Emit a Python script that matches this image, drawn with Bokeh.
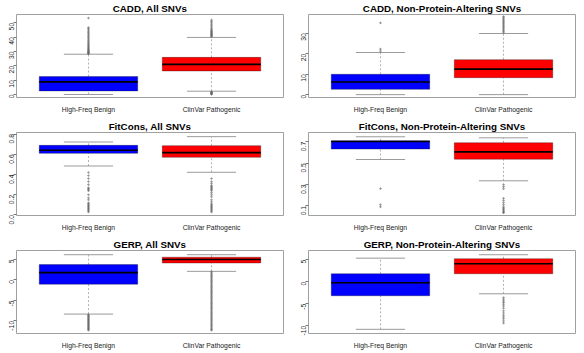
from bokeh.plotting import figure
from bokeh.layouts import gridplot
from bokeh.models import Range1d, FixedTicker
from bokeh.embed import file_html
from bokeh.resources import INLINE

GROUPS = ["High-Freq Benign", "ClinVar Pathogenic"]
COLORS = ["#0000FF", "#FF0000"]
TITLES = ["CADD, All SNVs", "CADD, Non-Protein-Altering SNVs",
          "FitCons, All SNVs", "FitCons, Non-Protein-Altering SNVs",
          "GERP, All SNVs", "GERP, Non-Protein-Altering SNVs"]

# ---- CADD, All SNVs ----
CADD_ALL_WLO = [0.0, 2.3]
CADD_ALL_Q1 = [2.5, 16.4]
CADD_ALL_MED = [8.8, 21.0]
CADD_ALL_Q3 = [12.5, 25.9]
CADD_ALL_WHI = [28.1, 39.8]
CADD_ALL_OUT_B = [28.4, 28.7, 29.0, 29.3, 29.7, 30.1, 30.5, 31.0, 31.5, 32.1, 32.7, 33.3,
                  34.0, 34.7, 35.4, 36.2, 37.0, 37.8, 38.7, 39.6, 40.5, 41.4, 42.3, 43.2,
                  44.1, 45.0, 45.9, 46.7, 53.3]
CADD_ALL_OUT_P = [0.1, 0.4, 0.7, 1.0, 1.3, 1.6, 1.9, 40.4, 40.8, 41.2, 41.7, 42.1, 42.6,
                  43.0, 43.5, 44.0, 44.6, 45.2, 46.0, 47.0, 48.0, 49.0, 50.0, 51.0, 52.0]

# ---- CADD, Non-Protein-Altering SNVs ----
CADD_NPA_WLO = [0.0, 0.0]
CADD_NPA_Q1 = [2.6, 8.3]
CADD_NPA_MED = [6.2, 12.5]
CADD_NPA_Q3 = [9.95, 17.1]
CADD_NPA_WHI = [20.6, 29.9]
CADD_NPA_OUT_B = [21.3, 22.3, 35.1]
CADD_NPA_OUT_P = [30.4, 31.0, 31.6, 32.2, 32.8, 33.4, 34.0, 34.6, 35.2, 35.8, 36.4,
                  37.0, 37.6, 38.2]

# ---- FitCons, All SNVs ----
FIT_ALL_WLO = [0.484, 0.422]
FIT_ALL_Q1 = [0.609, 0.570]
FIT_ALL_MED = [0.639, 0.616]
FIT_ALL_Q3 = [0.688, 0.685]
FIT_ALL_WHI = [0.721, 0.774]
FIT_ALL_OUT_B = [0.42, 0.39, 0.36, 0.33, 0.30, 0.27, 0.26, 0.25, 0.24, 0.20, 0.17,
                 0.15, 0.12, 0.11, 0.10, 0.09, 0.08, 0.07, 0.06, 0.05, 0.04, 0.03]
FIT_ALL_OUT_P = [0.36, 0.33, 0.31, 0.29, 0.28, 0.27, 0.26, 0.25, 0.24, 0.22, 0.20,
                 0.18, 0.15, 0.13, 0.11, 0.10, 0.09, 0.08, 0.07, 0.06, 0.05, 0.04, 0.03]

# ---- FitCons, Non-Protein-Altering SNVs ----
FIT_NPA_WLO = [0.534, 0.335]
FIT_NPA_Q1 = [0.632, 0.537]
FIT_NPA_MED = [0.703, 0.606]
FIT_NPA_Q3 = [0.709, 0.691]
FIT_NPA_WHI = [0.747, 0.737]
FIT_NPA_OUT_B = [0.262, 0.112, 0.091]
FIT_NPA_OUT_P = [0.30, 0.28, 0.26, 0.17, 0.15, 0.13, 0.11, 0.09, 0.08, 0.07, 0.06,
                 0.05, 0.04, 0.035]

# ---- GERP, All SNVs ----
GERP_ALL_WLO = [-8.35, 2.1]
GERP_ALL_Q1 = [-1.04, 4.15]
GERP_ALL_MED = [1.78, 4.99]
GERP_ALL_Q3 = [3.75, 5.56]
GERP_ALL_WHI = [6.17, 6.17]
GERP_ALL_OUT_B = [-8.5, -8.7, -8.9, -9.1, -9.3, -9.5, -9.7, -9.9, -10.1, -10.3, -10.5,
                  -10.7, -10.9, -11.1, -11.3, -11.5, -11.7, -11.9, -12.1, -12.3]
GERP_ALL_OUT_P = [2.0, 1.7, 1.4, 1.1, 0.8, 0.5, 0.2, -0.1, -0.4, -0.7, -1.0, -1.3, -1.6,
                  -1.9, -2.2, -2.5, -2.8, -3.1, -3.4, -3.7, -4.0, -4.3, -4.6, -4.9, -5.2,
                  -5.5, -5.8, -6.1, -6.4, -6.7, -7.0, -7.3, -7.6, -7.9, -8.2, -8.5, -8.8,
                  -9.1, -9.4, -9.7, -10.0, -10.3, -10.6, -10.9, -11.2, -11.5, -11.8, -12.1, -12.3]

# ---- GERP, Non-Protein-Altering SNVs ----
GERP_NPA_WLO = [-10.8, -2.73]
GERP_NPA_Q1 = [-3.18, 1.82]
GERP_NPA_MED = [-0.23, 4.09]
GERP_NPA_Q3 = [1.82, 5.23]
GERP_NPA_WHI = [5.36, 6.14]
GERP_NPA_OUT_B = []
GERP_NPA_OUT_P = [-3.6, -4.0, -4.4, -4.7, -5.1, -5.5, -6.0, -6.6, -7.1, -7.6, -8.0,
                  -8.4, -8.9, -9.4]

PANELS = [
    (CADD_ALL_WLO, CADD_ALL_Q1, CADD_ALL_MED, CADD_ALL_Q3, CADD_ALL_WHI, CADD_ALL_OUT_B, CADD_ALL_OUT_P),
    (CADD_NPA_WLO, CADD_NPA_Q1, CADD_NPA_MED, CADD_NPA_Q3, CADD_NPA_WHI, CADD_NPA_OUT_B, CADD_NPA_OUT_P),
    (FIT_ALL_WLO, FIT_ALL_Q1, FIT_ALL_MED, FIT_ALL_Q3, FIT_ALL_WHI, FIT_ALL_OUT_B, FIT_ALL_OUT_P),
    (FIT_NPA_WLO, FIT_NPA_Q1, FIT_NPA_MED, FIT_NPA_Q3, FIT_NPA_WHI, FIT_NPA_OUT_B, FIT_NPA_OUT_P),
    (GERP_ALL_WLO, GERP_ALL_Q1, GERP_ALL_MED, GERP_ALL_Q3, GERP_ALL_WHI, GERP_ALL_OUT_B, GERP_ALL_OUT_P),
    (GERP_NPA_WLO, GERP_NPA_Q1, GERP_NPA_MED, GERP_NPA_Q3, GERP_NPA_WHI, GERP_NPA_OUT_B, GERP_NPA_OUT_P),
]

Y_RANGES = [(-2.1, 55.8), (-1.4, 39.2), (-0.005, 0.815), (0.01, 0.787), (-13.1, 7.2), (-11.75, 7.1)]
Y_TICKS = [[0, 10, 20, 30, 40, 50], [0, 10, 20, 30], [0.0, 0.2, 0.4, 0.6, 0.8],
           [0.1, 0.3, 0.5, 0.7], [-10, -5, 0, 5], [-10, -5, 0, 5]]
Y_TICK_LABELS = [["0", "10", "20", "30", "40", "50"], ["0", "10", "20", "30"],
                 ["0.0", "0.2", "0.4", "0.6", "0.8"], ["0.1", "0.3", "0.5", "0.7"],
                 ["-10", "-5", "0", "5"], ["-10", "-5", "0", "5"]]

XPOS = [1, 2]
BOX_W = 0.8
STAPLE_W = 0.4
FONT = "Liberation Sans"


def make_panel(i):
    wlo, q1, med, q3, whi, out_b, out_p = PANELS[i]
    h = 117 if i >= 4 else 118
    p = figure(width=292, height=h, output_backend="svg", toolbar_location=None,
               x_range=Range1d(0.415, 2.585), y_range=Range1d(*Y_RANGES[i]),
               min_border_left=16, min_border_right=9, min_border_top=14,
               min_border_bottom=h - 14 - 83)
    p.title.text = TITLES[i]
    p.title.align = "center"
    p.title.text_font = FONT
    p.title.text_font_style = "bold"
    p.title.text_font_size = "9.8px"
    p.title.text_color = "#000000"
    p.title.standoff = 1
    p.title.offset = 0
    p.xgrid.visible = False
    p.ygrid.visible = False
    p.outline_line_color = "#a0a0a0"
    p.outline_line_width = 1
    p.background_fill_color = "white"
    p.border_fill_color = "white"

    # whiskers (dotted)
    p.segment(x0=XPOS, x1=XPOS, y0=q3, y1=whi, line_color="#b0b0b0", line_width=1, line_dash="2 2")
    p.segment(x0=XPOS, x1=XPOS, y0=wlo, y1=q1, line_color="#b0b0b0", line_width=1, line_dash="2 2")
    # staples
    sx0 = [x - STAPLE_W / 2 for x in XPOS]
    sx1 = [x + STAPLE_W / 2 for x in XPOS]
    p.segment(x0=sx0, x1=sx1, y0=whi, y1=whi, line_color="#9a9a9a", line_width=1)
    p.segment(x0=sx0, x1=sx1, y0=wlo, y1=wlo, line_color="#9a9a9a", line_width=1)
    # outliers
    p.scatter(x=[XPOS[0]] * len(out_b), y=out_b, size=1.6, marker="circle",
              fill_color="#666666", line_color="#666666", alpha=0.5)
    p.scatter(x=[XPOS[1]] * len(out_p), y=out_p, size=1.6, marker="circle",
              fill_color="#666666", line_color="#666666", alpha=0.5)
    # boxes
    p.vbar(x=XPOS, bottom=q1, top=q3, width=BOX_W, fill_color=COLORS,
           line_color="#000000", line_alpha=0.3, line_width=1)
    # medians
    mx0 = [x - BOX_W / 2 for x in XPOS]
    mx1 = [x + BOX_W / 2 for x in XPOS]
    p.segment(x0=mx0, x1=mx1, y0=med, y1=med, line_color="#000000", line_width=1.6)

    # x axis
    xa = p.xaxis[0]
    xa.ticker = FixedTicker(ticks=XPOS)
    xa.major_label_overrides = {XPOS[0]: GROUPS[0], XPOS[1]: GROUPS[1]}
    xa.axis_line_color = None
    xa.major_tick_line_color = None
    xa.minor_tick_line_color = None
    xa.major_label_standoff = 2
    xa.major_label_text_font = FONT
    xa.major_label_text_font_size = "6.8px"
    xa.major_label_text_color = "#222222"

    # y axis
    ya = p.yaxis[0]
    ya.ticker = FixedTicker(ticks=Y_TICKS[i])
    ya.major_label_overrides = {t: l for t, l in zip(Y_TICKS[i], Y_TICK_LABELS[i])}
    ya.axis_line_color = None
    ya.major_tick_line_color = "#777777"
    ya.major_tick_out = 3
    ya.major_tick_in = 0
    ya.minor_tick_line_color = None
    ya.major_label_orientation = 1.5708
    ya.major_label_standoff = 2
    ya.major_label_text_font = FONT
    ya.major_label_text_font_size = "6.8px"
    ya.major_label_text_color = "#222222"
    return p


figs = [make_panel(i) for i in range(6)]
grid = gridplot([[figs[0], figs[1]], [figs[2], figs[3]], [figs[4], figs[5]]],
                toolbar_location=None)

open("out.html", "w").write(file_html(grid, INLINE))
